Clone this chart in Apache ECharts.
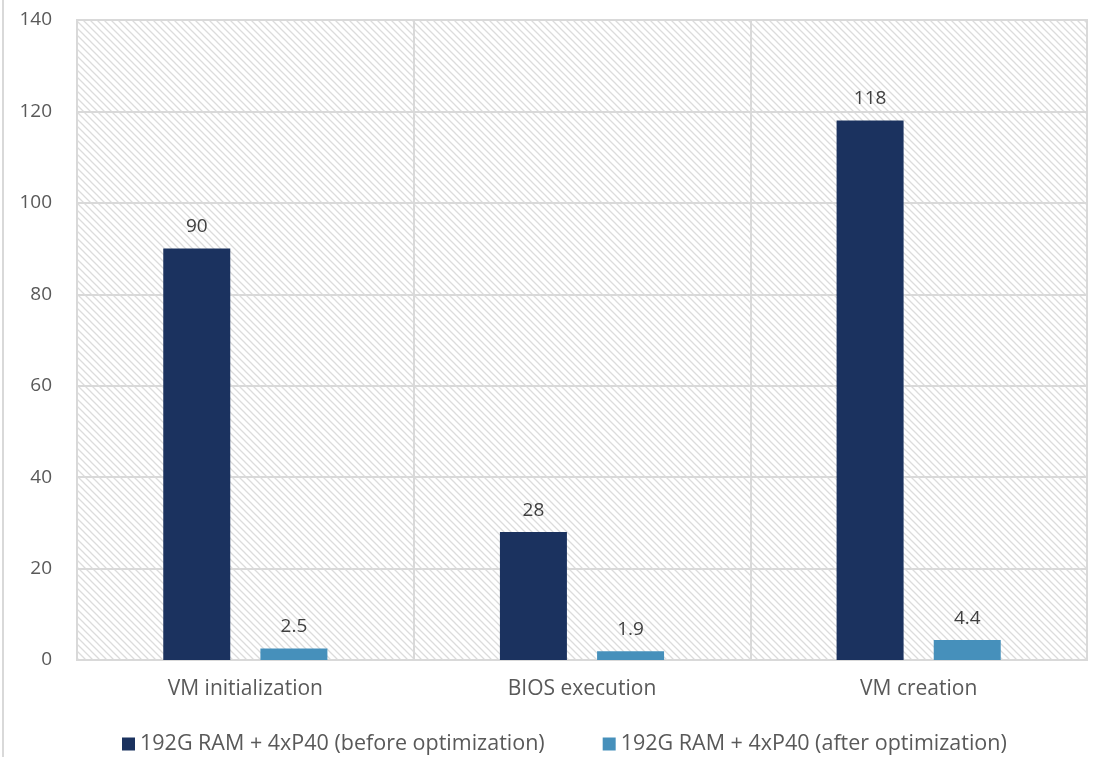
<!DOCTYPE html>
<html>
<head>
<meta charset="utf-8">
<script src="https://cdn.jsdelivr.net/npm/echarts@6/dist/echarts.min.js"></script>
<style>
  html, body { margin: 0; padding: 0; background: #fff; }
  #chart { width: 1104px; height: 757px; }
</style>
</head>
<body>
<div id="chart"></div>
<script>
// Boot time breakdown, in seconds
const categories = ['VM initialization', 'BIOS execution', 'VM creation'];
const seriesNames = [
  '192G RAM + 4xP40 (before optimization)',
  '192G RAM + 4xP40 (after optimization)'
];
const beforeValues = [90, 28, 118];
const afterValues = [2.5, 1.9, 4.4];
const yTicks = [0, 20, 40, 60, 80, 100, 120, 140];

// Diagonal hatch tile for the plot background
function hatchTile() {
  const s = 7;
  const c = document.createElement('canvas');
  c.width = s; c.height = s;
  const g = c.getContext('2d');
  g.fillStyle = '#ffffff';
  g.fillRect(0, 0, s, s);
  g.strokeStyle = '#dcdcdc';
  g.lineWidth = 1.3;
  g.beginPath();
  g.moveTo(-1, -1); g.lineTo(s + 1, s + 1);
  g.moveTo(-1, s - 1); g.lineTo(1, s + 1);
  g.moveTo(s - 1, -1); g.lineTo(s + 1, 1);
  g.stroke();
  return c;
}

const textColor = '#595959';
const fontFamily = '"Open Sans", Lato, sans-serif';

const chart = echarts.init(document.getElementById('chart'), null, { renderer: 'canvas' });
chart.setOption({
  animation: false,
  textStyle: { fontFamily: fontFamily },
  graphic: [{
    type: 'rect',
    shape: { x: 2, y: 0, width: 2, height: 757 },
    style: { fill: '#d9d9d9' },
    silent: true
  }],
  grid: {
    left: 77, right: 17, top: 20, bottom: 97,
    show: true,
    backgroundColor: { image: hatchTile(), repeat: 'repeat' },
    borderColor: '#d9d9d9',
    borderWidth: 2
  },
  legend: {
    top: 728,
    left: 117,
    itemWidth: 13,
    itemHeight: 13,
    itemGap: 58,
    icon: 'rect',
    textStyle: { color: textColor, fontSize: 21.5, fontFamily: fontFamily }
  },
  xAxis: {
    type: 'category',
    data: categories,
    axisLine: { lineStyle: { color: '#d9d9d9', width: 2 } },
    axisTick: { show: false },
    splitLine: { show: true, lineStyle: { color: '#d9d9d9', width: 2 } },
    axisLabel: { color: textColor, fontSize: 21, margin: 19 }
  },
  yAxis: {
    type: 'value',
    min: yTicks[0],
    max: yTicks[yTicks.length - 1],
    interval: 20,
    axisLine: { show: false },
    axisTick: { show: false },
    splitLine: { lineStyle: { color: '#d9d9d9', width: 2 } },
    axisLabel: { color: textColor, fontSize: 19, margin: 25 }
  },
  series: [
    {
      name: seriesNames[0],
      type: 'bar',
      data: beforeValues,
      barWidth: 67,
      barGap: '45%',
      itemStyle: { color: '#1b325f' },
      label: { show: true, position: 'top', distance: 12, color: '#404040', fontSize: 19 }
    },
    {
      name: seriesNames[1],
      type: 'bar',
      data: afterValues,
      barWidth: 67,
      itemStyle: { color: '#4690bb' },
      label: { show: true, position: 'top', distance: 12, color: '#404040', fontSize: 19 }
    }
  ]
});
</script>
</body>
</html>
